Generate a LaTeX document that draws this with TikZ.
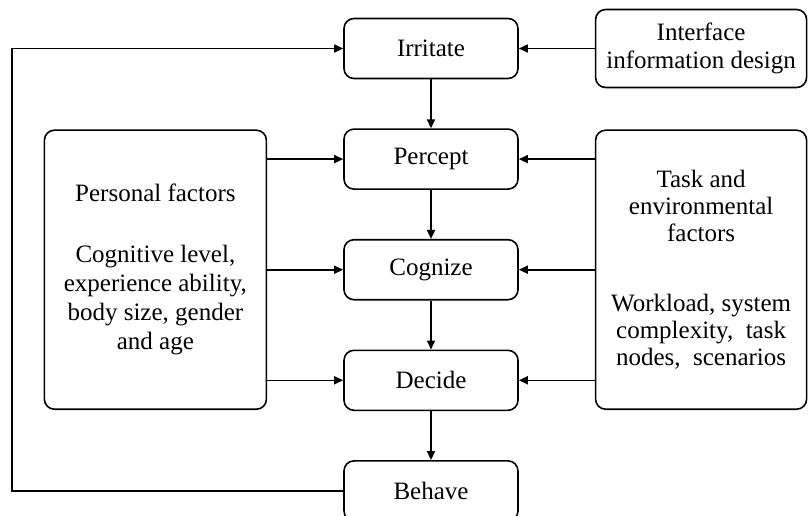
\documentclass[tikz,border=0pt]{standalone}
\usepackage{fontspec}
\setmainfont{Liberation Serif}
\usepackage{tikz}
\usetikzlibrary{arrows.meta,positioning,calc}
\tikzset{
  hfnode/.style={
    draw,
    rounded corners=10pt,
    align=center,
    inner sep=4pt,
    line width=1.6pt,
    font=\fontsize{25}{29}\selectfont
  },
  hfstage/.style={hfnode, minimum width=174pt, minimum height=60pt},
  hffactor/.style={hfnode, minimum width=222pt, minimum height=279pt},
  hftask/.style={hfnode, minimum width=211pt, minimum height=279pt, font=\fontsize{25}{27}\selectfont},
  hfinput/.style={hfnode, minimum width=211pt, minimum height=78pt, font=\fontsize{25}{28}\selectfont},
  hfarrow/.style={-{Triangle[length=9pt,width=8pt]}, line width=1.6pt}
}
\begin{document}
\begin{tikzpicture}[
  x=1pt, y=1pt,
  node distance=49pt and 76pt
]
\useasboundingbox (0,0) rectangle (808,-516);
\node[hfstage] (irritate) at (431,-48.5) {Irritate};
\node[hfstage, below=of irritate] (percept) {Percept};
\node[hfstage, below=of percept] (cognize) {Cognize};
\node[hfstage, below=of cognize] (decide) {Decide};
\node[hfstage, below=of decide] (behave) {Behave};
\node[hfinput, right=of irritate] (interface) {Interface\\information design};
\node[hffactor, left=of $(percept.north west)!0.5!(decide.south west)$] (personal) {Personal factors\\[32pt]Cognitive level,\\experience ability,\\body size, gender\\and age};
\node[hftask, right=of $(percept.north east)!0.5!(decide.south east)$] (task) {Task and\\environmental\\factors\\[43pt]Workload, system\\complexity,~ task\\nodes,~ scenarios};
\draw[hfarrow] (irritate) -- (percept);
\draw[hfarrow] (percept) -- (cognize);
\draw[hfarrow] (cognize) -- (decide);
\draw[hfarrow] (decide) -- (behave);
\draw[hfarrow] (interface) -- (irritate);
\draw[hfarrow] (personal.east |- percept) -- (percept);
\draw[hfarrow] (personal.east |- cognize) -- (cognize);
\draw[hfarrow] (personal.east |- decide) -- (decide);
\draw[hfarrow] (task.west |- percept) -- (percept);
\draw[hfarrow] (task.west |- cognize) -- (cognize);
\draw[hfarrow] (task.west |- decide) -- (decide);
\draw[hfarrow] (behave.west) -- ++(-331,0) |- (irritate.west);
\end{tikzpicture}
\end{document}
